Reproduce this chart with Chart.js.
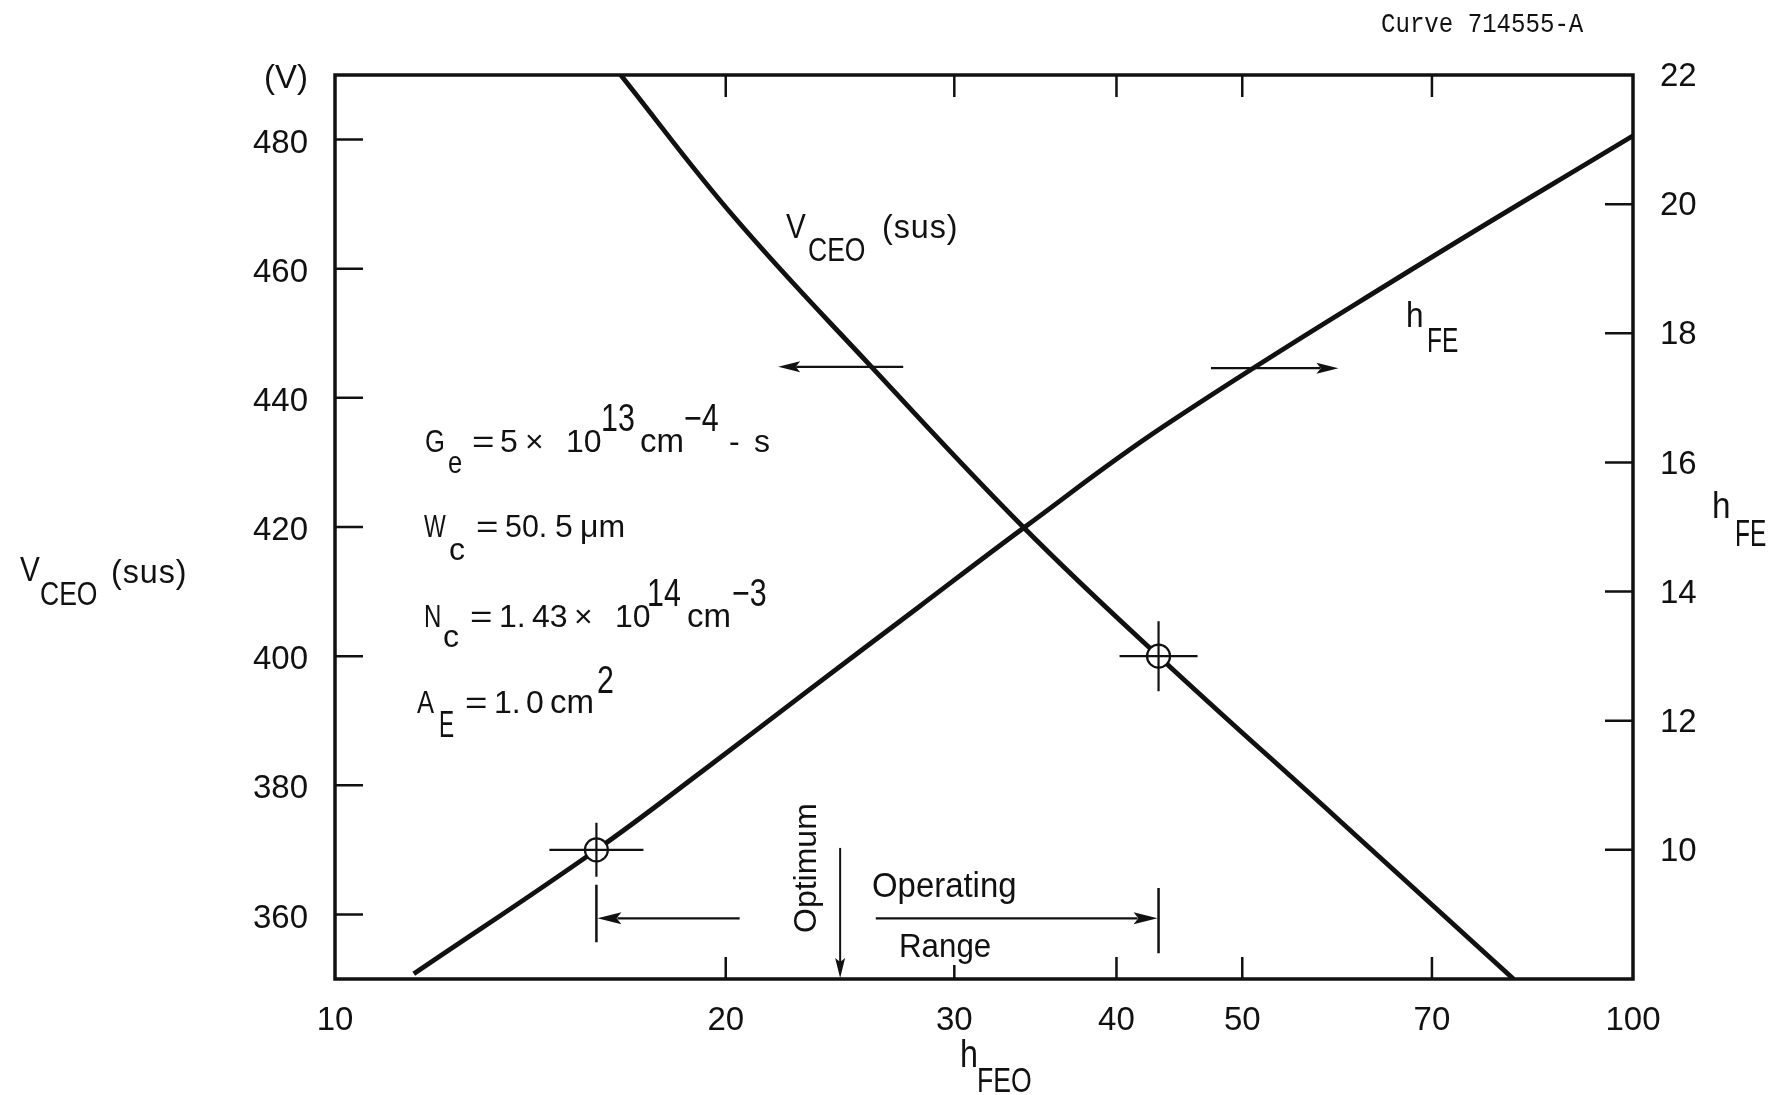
<!DOCTYPE html>
<html>
<head>
<meta charset="utf-8">
<script src="https://cdn.jsdelivr.net/npm/chart.js@4.4.1/dist/chart.umd.min.js"></script>
<style>
  html, body { margin: 0; padding: 0; background: #fff; }
  #wrap { width: 1784px; height: 1095px; }
</style>
</head>
<body>
<div id="wrap"><canvas id="chart" width="1784" height="1095"></canvas></div>
<script>
const FONT = "'Liberation Sans', Arial, sans-serif";
const MONO = "'Liberation Mono', 'DejaVu Sans Mono', monospace";
const INK = '#111';

// axes: h_FEO (log), V_CEO(sus) on the left, h_FE on the right
const hfeoTicks = [10, 20, 30, 40, 50, 70, 100];
const vceoTicks = [360, 380, 400, 420, 440, 460, 480, 490];
const hfeTicks = [10, 12, 14, 16, 18, 20, 22];

// V_CEO(sus) against h_FEO
const vceoHfeo = [16.6, 20.3, 25.9, 33.9, 43.1, 59.0, 80.9];
const vceoVolts = [490, 468.0, 444.8, 420.0, 400, 375.1, 350];

// h_FE against h_FEO
const hfeHfeo = [11.5, 15.9, 19.25, 23.27, 28.12, 34.0, 43.5, 67.3, 100];
const hfeGain = [8.08, 10.0, 11.24, 12.5, 13.75, 15.0, 16.56, 18.97, 21.06];

// design points (circled) = ends of the operating range
const markerHfeo = [15.9, 43.1];
const markerVolts = [370, 400];
const optimumHfeo = 24.5;

// arrows telling which axis a curve reads on: [from h_FEO, to h_FEO, level]
const vceoArrow = [27.4, 21.95, 444.8];
const hfeArrow = [47.3, 59.3, 17.46];

function T(ctx, s, x, y, size, sx = 1, ls = 0, family = FONT) {
  ctx.save();
  ctx.font = `${size}px ${family}`;
  ctx.letterSpacing = ls + 'px';
  ctx.textAlign = 'left';
  ctx.textBaseline = 'alphabetic';
  ctx.translate(x, y);
  ctx.scale(sx, 1);
  ctx.fillText(s, 0, 0);
  ctx.restore();
}

function arrow(ctx, x1, y1, x2, y2, len, half) {
  const ang = Math.atan2(y2 - y1, x2 - x1);
  const c = Math.cos(ang), s = Math.sin(ang);
  const bx = x2 - len * c, by = y2 - len * s;
  ctx.beginPath();
  ctx.moveTo(x1, y1);
  ctx.lineTo(bx + 4 * c, by + 4 * s);
  ctx.stroke();
  ctx.beginPath();
  ctx.moveTo(x2, y2);
  ctx.lineTo(bx - half * s, by + half * c);
  ctx.lineTo(bx + len * 0.2 * c, by + len * 0.2 * s);
  ctx.lineTo(bx + half * s, by - half * c);
  ctx.closePath();
  ctx.fill();
}

const decor = {
  id: 'decor',
  afterDatasetsDraw(chart) {
    const { ctx, chartArea: a, scales } = chart;
    const X = (v) => scales.x.getPixelForValue(v);
    const V = (v) => scales.y.getPixelForValue(v);
    const H = (v) => scales.y1.getPixelForValue(v);
    ctx.save();
    ctx.strokeStyle = INK;
    ctx.fillStyle = INK;

    // frame
    ctx.lineWidth = 3.5;
    ctx.strokeRect(a.left, a.top, a.right - a.left, a.bottom - a.top);

    // inward tick marks
    ctx.lineWidth = 2.5;
    ctx.beginPath();
    hfeoTicks.filter((v) => v > 10 && v < 100).forEach((v) => {
      const px = X(v);
      ctx.moveTo(px, a.bottom); ctx.lineTo(px, a.bottom - (v === 30 ? 14 : 22));
      ctx.moveTo(px, a.top); ctx.lineTo(px, a.top + 22);
    });
    vceoTicks.filter((v) => v < 490).forEach((v) => {
      ctx.moveTo(a.left, V(v)); ctx.lineTo(a.left + 28, V(v));
    });
    hfeTicks.filter((v) => v < 22).forEach((v) => {
      ctx.moveTo(a.right, H(v)); ctx.lineTo(a.right - 28, H(v));
    });
    ctx.stroke();

    // circled design points with cross hairs
    const arms = [[47, 27], [39, 35]];
    markerHfeo.forEach((hv, i) => {
      const cx = X(hv), cy = V(markerVolts[i]);
      ctx.beginPath();
      ctx.arc(cx, cy, 11.5, 0, Math.PI * 2);
      ctx.fillStyle = '#fff';
      ctx.fill();
      ctx.lineWidth = 2.2;
      ctx.stroke();
      ctx.beginPath();
      ctx.moveTo(cx - arms[i][0], cy); ctx.lineTo(cx + arms[i][0], cy);
      ctx.moveTo(cx, cy - arms[i][1]); ctx.lineTo(cx, cy + arms[i][1]);
      ctx.stroke();
    });
    ctx.fillStyle = INK;

    // curve-to-axis arrows
    ctx.lineWidth = 2.3;
    arrow(ctx, X(vceoArrow[0]), V(vceoArrow[2]), X(vceoArrow[1]), V(vceoArrow[2]), 22, 5.5);
    arrow(ctx, X(hfeArrow[0]), H(hfeArrow[2]), X(hfeArrow[1]), H(hfeArrow[2]), 22, 5.5);

    // operating range bracket
    const lo = X(markerHfeo[0]), hi = X(markerHfeo[1]);
    ctx.lineWidth = 2.5;
    ctx.beginPath();
    ctx.moveTo(lo, V(364.6)); ctx.lineTo(lo, V(355.7));
    ctx.moveTo(hi, V(364.1)); ctx.lineTo(hi, V(354.0));
    ctx.stroke();
    ctx.lineWidth = 2.2;
    arrow(ctx, X(20.5), V(359.4), lo + 1, V(359.4), 24, 6);
    arrow(ctx, X(26.1), V(359.4), hi - 1, V(359.4), 24, 6);

    // optimum marker
    ctx.lineWidth = 2;
    arrow(ctx, X(optimumHfeo), V(370.3), X(optimumHfeo), a.bottom - 1, 20, 5);
    ctx.restore();
  },
  afterDraw(chart) {
    const { ctx } = chart;
    ctx.save();
    ctx.fillStyle = INK;

    T(ctx, 'Curve 714555-A', 1381, 32, 28, 0.86, 0, MONO);

    // axis titles
    T(ctx, 'V', 20, 581, 35, 0.85);
    T(ctx, 'CEO', 40, 605, 34, 0.78);
    T(ctx, '(sus)', 111, 583, 34, 0.95, 1);

    T(ctx, 'h', 1712, 518, 37, 0.9);
    T(ctx, 'FE', 1735, 546, 36, 0.68);

    T(ctx, 'h', 960, 1067, 38, 0.85);
    T(ctx, 'FEO', 977, 1092, 35, 0.76);

    // curve labels
    T(ctx, 'V', 786, 238, 35, 0.85);
    T(ctx, 'CEO', 808, 261, 34, 0.78);
    T(ctx, '(sus)', 882, 238, 34, 0.95, 1);

    T(ctx, 'h', 1406, 327, 35, 0.9);
    T(ctx, 'FE', 1427, 352, 35, 0.7);

    // device parameters
    T(ctx, 'G', 425, 452, 32, 0.8);
    T(ctx, 'e', 448, 473, 32, 0.8);
    T(ctx, '=', 472, 452, 32, 1.2);
    T(ctx, '5', 500, 452, 32);
    T(ctx, '\u00d7', 525, 452, 32);
    T(ctx, '10', 566, 452, 32);
    T(ctx, '13', 601, 431, 38, 0.8);
    T(ctx, 'cm', 640, 452, 33);
    T(ctx, '\u22124', 684, 431, 38, 0.8);
    T(ctx, '-', 729, 452, 32);
    T(ctx, 's', 754, 452, 32);

    T(ctx, 'W', 424, 537, 32, 0.72);
    T(ctx, 'c', 449, 560, 32);
    T(ctx, '=', 476, 537, 32, 1.2);
    T(ctx, '50.', 505, 537, 32, 0.95);
    T(ctx, '5', 555, 537, 32);
    T(ctx, '\u03bcm', 580, 537, 32);

    T(ctx, 'N', 424, 627, 32, 0.75);
    T(ctx, 'c', 443, 647, 32);
    T(ctx, '=', 470, 627, 32, 1.2);
    T(ctx, '1.', 499, 627, 32);
    T(ctx, '43', 532, 627, 32);
    T(ctx, '\u00d7', 574, 627, 32);
    T(ctx, '10', 615, 627, 32);
    T(ctx, '14', 647, 606, 38, 0.8);
    T(ctx, 'cm', 687, 627, 33);
    T(ctx, '\u22123', 732, 606, 38, 0.8);

    T(ctx, 'A', 417, 713, 32, 0.8);
    T(ctx, 'E', 439, 737, 36, 0.63);
    T(ctx, '=', 465, 713, 32, 1.2);
    T(ctx, '1.', 494, 713, 32);
    T(ctx, '0', 526, 713, 32);
    T(ctx, 'cm', 550, 713, 33);
    T(ctx, '2', 597, 693, 38, 0.8);

    // operating range notes
    T(ctx, 'Operating', 872, 897, 35, 0.94);
    T(ctx, 'Range', 899, 957, 34, 0.92);
    ctx.save();
    ctx.translate(816, 933);
    ctx.rotate(-Math.PI / 2);
    T(ctx, 'Optimum', 0, 0, 32);
    ctx.restore();

    ctx.restore();
  },
};

const lineStyle = {
  borderColor: INK,
  borderWidth: 4.8,
  pointRadius: 0,
  fill: false,
  tension: 0.4,
  borderCapStyle: 'butt',
  borderJoinStyle: 'round',
};

const tickFont = { family: FONT, size: 33 };

new Chart(document.getElementById('chart'), {
  type: 'line',
  data: {
    datasets: [
      { label: 'VCEO(sus)', data: vceoHfeo.map((x, i) => ({ x, y: vceoVolts[i] })), yAxisID: 'y', ...lineStyle },
      { label: 'hFE', data: hfeHfeo.map((x, i) => ({ x, y: hfeGain[i] })), yAxisID: 'y1', ...lineStyle },
    ],
  },
  options: {
    responsive: false,
    animation: false,
    layout: { padding: { top: 75, left: 0, right: 0, bottom: 0 } },
    plugins: { legend: { display: false }, tooltip: { enabled: false } },
    scales: {
      x: {
        type: 'logarithmic',
        position: 'bottom',
        min: 10,
        max: 100,
        grid: { display: false },
        border: { display: false },
        afterBuildTicks: (s) => { s.ticks = hfeoTicks.map((v) => ({ value: v })); },
        afterFit: (s) => { s.height = 116; },
        ticks: { autoSkip: false, maxRotation: 0, padding: 14, color: INK, font: tickFont, callback: (v) => String(v) },
      },
      y: {
        position: 'left',
        min: 350,
        max: 490,
        grid: { display: false },
        border: { display: false },
        afterBuildTicks: (s) => { s.ticks = vceoTicks.map((v) => ({ value: v })); },
        afterFit: (s) => { s.width = 335; },
        ticks: { autoSkip: false, padding: 19, labelOffset: 4, color: INK, font: tickFont, callback: (v) => (v === 490 ? '(V)' : String(v)) },
      },
      y1: {
        position: 'right',
        min: 8,
        max: 22,
        grid: { display: false },
        border: { display: false },
        afterBuildTicks: (s) => { s.ticks = hfeTicks.map((v) => ({ value: v })); },
        afterFit: (s) => { s.width = 151; },
        ticks: { autoSkip: false, padding: 19, labelOffset: 2, color: INK, font: tickFont, callback: (v) => String(v) },
      },
    },
  },
  plugins: [decor],
});
</script>
</body>
</html>
